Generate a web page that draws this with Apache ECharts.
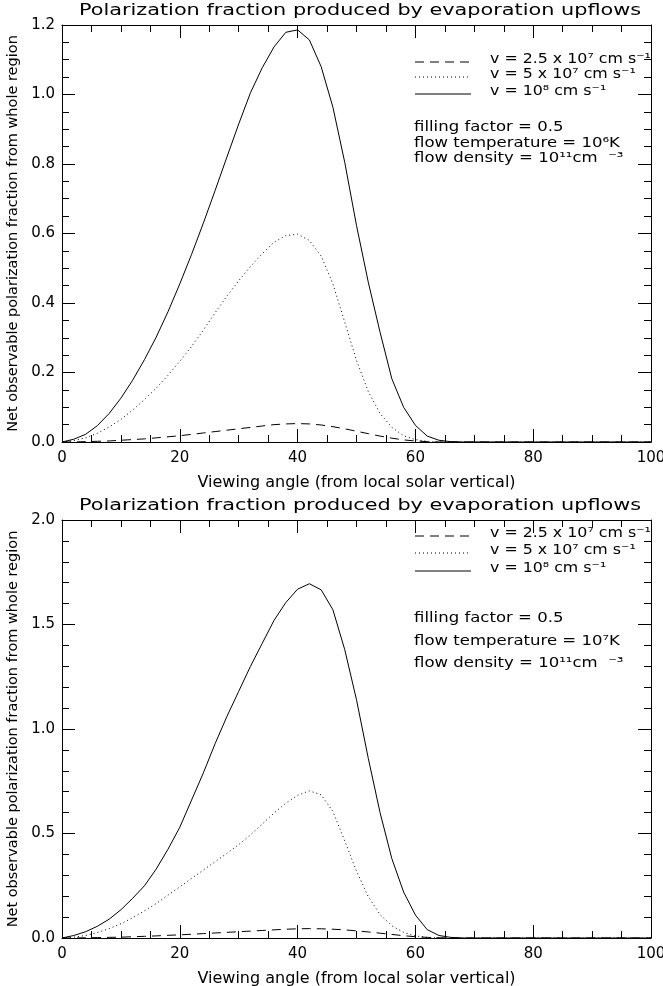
<!DOCTYPE html>
<html>
<head>
<meta charset="UTF-8">
<title>Polarization fraction produced by evaporation upflows</title>
<script src="https://cdn.jsdelivr.net/npm/echarts@6/dist/echarts.min.js"></script>
<style>
  html, body { margin: 0; padding: 0; background: #fff; }
  #chart { width: 663px; height: 986px; }
</style>
</head>
<body>
<div id="chart"></div>
<script>
// viewing angle samples (deg)
var angles = [0, 2, 4, 6, 8, 10, 12, 14, 16, 18, 20, 22, 24, 26, 28, 30, 32, 34, 36, 38, 40,
  42, 44, 46, 48, 50, 52, 54, 56, 58, 60, 62, 64, 66, 68, 70, 72, 74, 76, 78, 80,
  82, 84, 86, 88, 90, 92, 94, 96, 98, 100];

// top panel: T = 10^6 K
var topV25 = [0, 0.0003, 0.001, 0.002, 0.003, 0.005, 0.007, 0.009, 0.012, 0.015, 0.018,
  0.022, 0.026, 0.030, 0.034, 0.038, 0.042, 0.046, 0.050, 0.052, 0.053,
  0.052, 0.049, 0.044, 0.038, 0.031, 0.024, 0.017, 0.011, 0.006, 0.003,
  0.001, 0, 0, 0, 0, 0, 0, 0, 0, 0, 0, 0, 0, 0, 0, 0, 0, 0, 0, 0];
var topV50 = [0, 0.004, 0.012, 0.025, 0.043, 0.065, 0.092, 0.122, 0.155, 0.192, 0.232,
  0.275, 0.322, 0.372, 0.420, 0.464, 0.505, 0.542, 0.575, 0.594, 0.598,
  0.580, 0.535, 0.455, 0.345, 0.235, 0.145, 0.082, 0.042, 0.018, 0.007,
  0.002, 0, 0, 0, 0, 0, 0, 0, 0, 0, 0, 0, 0, 0, 0, 0, 0, 0, 0, 0];
var topV100 = [0, 0.008, 0.022, 0.047, 0.082, 0.126, 0.178, 0.237, 0.302, 0.375, 0.455,
  0.540, 0.630, 0.724, 0.820, 0.915, 1.005, 1.077, 1.137, 1.179, 1.186,
  1.157, 1.080, 0.963, 0.805, 0.623, 0.460, 0.316, 0.182, 0.100, 0.048,
  0.017, 0.005, 0.001, 0, 0, 0, 0, 0, 0, 0, 0, 0, 0, 0, 0, 0, 0, 0, 0, 0];

// bottom panel: T = 10^7 K
var botV25 = [0, 0.0003, 0.001, 0.002, 0.003, 0.004, 0.006, 0.008, 0.010, 0.013, 0.015,
  0.018, 0.021, 0.024, 0.027, 0.030, 0.033, 0.036, 0.039, 0.042, 0.044,
  0.045, 0.044, 0.042, 0.039, 0.034, 0.029, 0.023, 0.017, 0.011, 0.006,
  0.003, 0.001, 0, 0, 0, 0, 0, 0, 0, 0, 0, 0, 0, 0, 0, 0, 0, 0, 0, 0];
var botV50 = [0, 0.004, 0.012, 0.026, 0.045, 0.068, 0.097, 0.130, 0.165, 0.205, 0.245,
  0.285, 0.325, 0.365, 0.405, 0.447, 0.493, 0.545, 0.598, 0.645, 0.683,
  0.704, 0.685, 0.605, 0.465, 0.320, 0.198, 0.112, 0.058, 0.027, 0.010,
  0.003, 0, 0, 0, 0, 0, 0, 0, 0, 0, 0, 0, 0, 0, 0, 0, 0, 0, 0, 0];
var botV100 = [0, 0.012, 0.030, 0.056, 0.090, 0.135, 0.190, 0.250, 0.330, 0.425, 0.530,
  0.660, 0.790, 0.930, 1.060, 1.180, 1.300, 1.410, 1.520, 1.605, 1.669,
  1.695, 1.666, 1.570, 1.380, 1.140, 0.860, 0.600, 0.380, 0.220, 0.110,
  0.040, 0.012, 0.003, 0, 0, 0, 0, 0, 0, 0, 0, 0, 0, 0, 0, 0, 0, 0, 0, 0];

var xTicks = [0, 20, 40, 60, 80, 100];
var titleText = 'Polarization fraction produced by evaporation upflows';
var xName = 'Viewing angle (from local solar vertical)';
var yName = 'Net observable polarization fraction from whole region';
var legendLabels = ['v = 2.5 x 10\u2077 cm s\u207B\u00B9', 'v = 5 x 10\u2077 cm s\u207B\u00B9', 'v = 10\u2078 cm s\u207B\u00B9'];
var topNotes = ['filling factor = 0.5', 'flow temperature = 10\u2076K', 'flow density = 10\u00B9\u00B9cm  \u207B\u00B3'];
var botNotes = ['filling factor = 0.5', 'flow temperature = 10\u2077K', 'flow density = 10\u00B9\u00B9cm  \u207B\u00B3'];

var FONT = 'DejaVu Sans';
var chart = echarts.init(document.getElementById('chart'));

function pairs(ys) {
  return angles.map(function (a, i) { return [a, ys[i]]; });
}

function xAxes(gi) {
  var base = {
    gridIndex: gi, type: 'value', min: 0, max: 100, interval: 20,
    axisLine: { onZero: false, lineStyle: { color: '#000', width: 1 } },
    axisTick: { inside: true, length: 13, lineStyle: { color: '#000' } },
    minorTick: { show: true, splitNumber: 4, length: 7, lineStyle: { color: '#000' } },
    splitLine: { show: false }
  };
  var bottom = Object.assign({}, base, {
    position: 'bottom',
    axisLabel: { color: '#000', fontSize: 15, fontFamily: FONT, margin: 9,
      formatter: function (v) { return xTicks.indexOf(v) >= 0 ? String(v) : ''; } },
    name: xName, nameLocation: 'middle', nameGap: 33,
    nameTextStyle: { color: '#000', fontSize: 16, fontFamily: FONT }
  });
  var top = Object.assign({}, base, { position: 'top', axisLabel: { show: false } });
  return [bottom, top];
}

function yAxes(gi, max, step, minor) {
  var base = {
    gridIndex: gi, type: 'value', min: 0, max: max, interval: step,
    axisLine: { onZero: false, lineStyle: { color: '#000', width: 1 } },
    axisTick: { inside: true, length: 13, lineStyle: { color: '#000' } },
    minorTick: { show: true, splitNumber: minor, length: 7, lineStyle: { color: '#000' } },
    splitLine: { show: false }
  };
  var left = Object.assign({}, base, {
    position: 'left',
    axisLabel: { color: '#000', fontSize: 15, fontFamily: FONT, margin: 7,
      formatter: function (v) { return v.toFixed(1); } },
    name: yName, nameLocation: 'middle', nameGap: 37,
    nameTextStyle: { color: '#000', fontSize: 14.5, fontFamily: FONT }
  });
  var right = Object.assign({}, base, { position: 'right', axisLabel: { show: false } });
  return [left, right];
}

function curve(name, ys, gi, dash) {
  return {
    name: name, type: 'line', xAxisIndex: gi * 2, yAxisIndex: gi * 2,
    data: pairs(ys), showSymbol: false, symbol: 'none', clip: true,
    lineStyle: { color: '#000', width: 1, type: dash }
  };
}

// scaled text (the plot's font is wide), scaled around its own anchor
function txt(s, x, y, size, sx, align) {
  return { type: 'text', x: x, y: y, scaleX: sx, originX: 0, originY: 0,
    style: { text: s, fill: '#000', font: size + 'px "' + FONT + '"',
      align: align || 'left', verticalAlign: 'middle' } };
}

function legendBlock(lineYs, noteYs, notes) {
  var g = [];
  var dashes = [[9, 6], [1, 3], null];
  for (var i = 0; i < 3; i++) {
    g.push({ type: 'line', shape: { x1: 415, y1: lineYs[i], x2: 471, y2: lineYs[i] },
      style: { stroke: '#000', lineWidth: 1, lineDash: dashes[i] } });
    g.push(txt(legendLabels[i], 490, lineYs[i] - 3, 14, 1.13));
  }
  for (var j = 0; j < notes.length; j++) {
    g.push(txt(notes[j], 414, noteYs[j], 14, 1.18));
  }
  return g;
}

var option = {
  backgroundColor: '#fff',
  animation: false,
  grid: [
    { left: 62, top: 25, width: 589, height: 417, outerBoundsMode: 'none', containLabel: false },
    { left: 62, top: 520, width: 589, height: 418, outerBoundsMode: 'none', containLabel: false }
  ],
  xAxis: xAxes(0).concat(xAxes(1)),
  yAxis: yAxes(0, 1.2, 0.2, 4).concat(yAxes(1, 2.0, 0.5, 5)),
  series: [
    curve('v25', topV25, 0, [9, 6]),
    curve('v50', topV50, 0, [1, 3]),
    curve('v100', topV100, 0, 'solid'),
    curve('v25', botV25, 1, [9, 6]),
    curve('v50', botV50, 1, [1, 3]),
    curve('v100', botV100, 1, 'solid')
  ],
  graphic: [txt(titleText, 360, 11, 16, 1.3, 'center'), txt(titleText, 360, 506, 16, 1.3, 'center')]
    .concat(legendBlock([62, 77, 94], [127, 143, 158], topNotes))
    .concat(legendBlock([536, 553, 571], [618, 641, 663], botNotes))
};

chart.setOption(option);
</script>
</body>
</html>
